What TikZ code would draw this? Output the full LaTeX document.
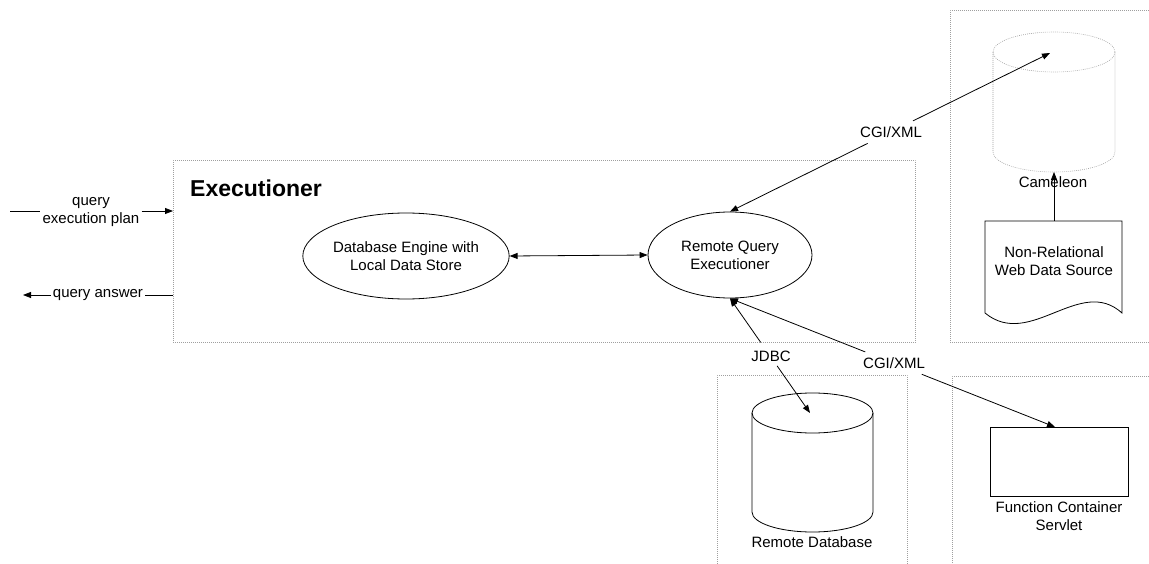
\documentclass[tikz,border=0pt]{standalone}
\usepackage{fontspec}
\setmainfont{Liberation Sans}
\usetikzlibrary{arrows.meta,calc,shapes.geometric}
\begin{document}
\begin{tikzpicture}[x=1pt,y=-1pt,
  lbl/.style={font=\fontsize{15}{18}\selectfont, align=center, inner sep=0pt},
  frame/.style={draw=gray!75, dash pattern=on 0.8pt off 1.2pt, line width=0.6pt},
  conn/.style={draw=black, line width=0.8pt},
  tip/.style={-{Triangle[length=8pt,width=6pt]}},
  dtip/.style={{Triangle[length=8pt,width=6pt]}-{Triangle[length=8pt,width=6pt]}},
  oval/.style={ellipse, draw, line width=0.8pt, lbl}]
\useasboundingbox (0,0) rectangle (1149,564);

% frames
\node[frame, anchor=north west, minimum width=742pt, minimum height=182pt, inner sep=0pt] (exec) at (173,160) {};
\node[frame, anchor=north west, minimum width=260pt, minimum height=332pt, inner sep=0pt] (camframe) at (950,10) {};
\node[frame, anchor=north west, minimum width=190pt, minimum height=220pt, inner sep=0pt] (rdbframe) at (717,375) {};
\node[frame, anchor=north west, minimum width=260pt, minimum height=220pt, inner sep=0pt] (fcframe) at (952,376) {};

% title
\node[anchor=west, inner sep=0pt, font=\bfseries\fontsize{23}{27}\selectfont] (title) at (190,188) {Executioner};

% ellipses
\node[oval, minimum width=200pt, minimum height=86pt] (dbe) at (406,256) {Database Engine with\\Local Data Store};
\node[oval, minimum width=164pt, minimum height=86pt] (rqe) at (730,255) {Remote Query\\Executioner};
\draw[conn, dtip] (dbe.east) -- (rqe.west);

% inputs / outputs
\coordinate (qpstart) at (10,211);
\node[lbl, inner sep=2pt] (qp) at (91,212) {query\\execution plan};
\draw[conn] (qpstart) -- (qp.west |- qpstart);
\draw[conn, tip] (qp.east |- qpstart) -- (exec.west |- qpstart);
\coordinate (qaend) at (23,295);
\node[lbl, inner sep=2pt] (qa) at (98,295) {query answer};
\draw[conn] (exec.west |- qa) -- (qa.east);
\draw[conn, tip] (qa.west) -- (qaend);

% Cameleon cylinder (dotted)
\draw[frame] (1054,52) ellipse [x radius=61pt, y radius=20pt];
\draw[frame] (993,52) -- (993,152) arc[start angle=180, end angle=360, x radius=61pt, y radius=20pt] -- (1115,52);
\coordinate (camtop) at (1050,53);
\coordinate (cambot) at (1054,172);
\node[lbl] (camlbl) at (1053,182) {Cameleon};

% Non-relational web data source (document)
\draw[conn] (985,221) -- (985,313) .. controls (1030,350) and (1080,275) .. (1122,313) -- (1122,221) -- cycle;
\node[lbl] (doc) at (1054,261) {Non-Relational\\Web Data Source};
\coordinate (doctop) at (1054,221);
\draw[conn, tip] (doctop) -- (cambot);

% Remote database cylinder
\draw[line width=0.8pt] (812.5,413) ellipse [x radius=60.5pt, y radius=20pt];
\draw[line width=0.8pt] (752,413) -- (752,512) arc[start angle=180, end angle=360, x radius=60.5pt, y radius=20pt] -- (873,413);
\coordinate (dbtop) at (810,413);
\node[lbl] (rdblbl) at (812,542) {Remote Database};

% Function container servlet
\node[draw, line width=0.8pt, minimum width=138pt, minimum height=69pt, inner sep=0pt] (fc) at (1059,461.5) {};
\node[lbl] (fclbl) at (1059,516.5) {Function Container\\Servlet};
\coordinate (fctop) at (1055,427);

% connectors with labels
\draw[conn, tip] ($(rqe.north)!0.43!(camtop)$) -- (rqe.north);
\draw[conn, tip] ($(rqe.north)!0.572!(camtop)$) -- (camtop);
\node[lbl] (cgi1) at (891,132) {CGI/XML};

\draw[conn, tip] ($(rqe.south)!0.384!(dbtop)$) -- (rqe.south);
\draw[conn, tip] ($(rqe.south)!0.589!(dbtop)$) -- (dbtop);
\node[lbl] (jdbc) at (771,356) {JDBC};

\draw[conn, tip] ($(rqe.south)!0.416!(fctop)$) -- (rqe.south);
\draw[conn, tip] ($(rqe.south)!0.59!(fctop)$) -- (fctop);
\node[lbl] (cgi2) at (894,363) {CGI/XML};
\end{tikzpicture}
\end{document}
